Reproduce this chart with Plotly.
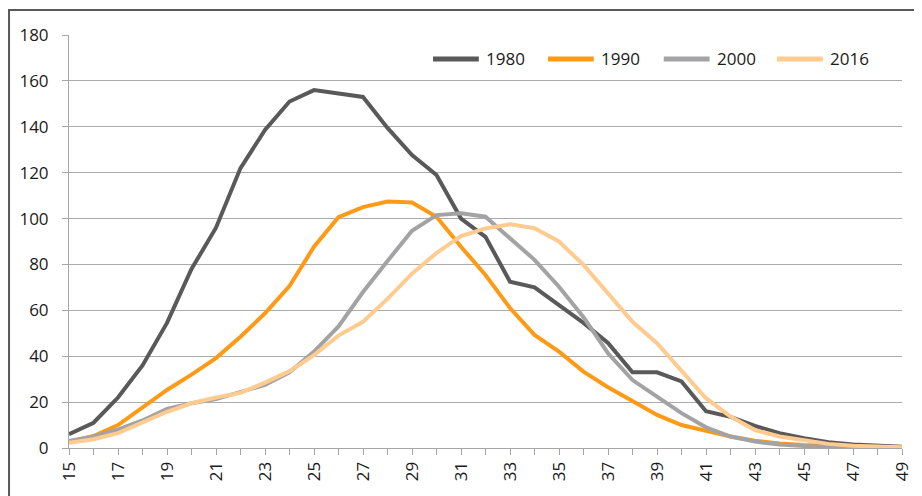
import plotly.graph_objects as go

ages = list(range(15, 50))
x_tick_labels = [str(a) for a in range(15, 50, 2)]
y_ticks = list(range(0, 181, 20))

s1980 = [6, 11, 22, 36, 54.5, 78, 96, 122, 138.6, 151, 156, 154.5, 153, 139.5, 127.7, 119,
         100, 92, 72.5, 70, 62, 54.5, 45.8, 33, 33, 29, 16, 13.6, 9.6, 6.5, 4.3, 2.5, 1.5, 1, 0.5]
s1990 = [2.7, 5.2, 10, 17.4, 25.3, 32, 39.2, 48.5, 58.7, 70.6, 87.7, 100.6, 105, 107.4, 107, 100.8,
         87.7, 75.4, 61, 49.3, 42, 33.3, 26.5, 20.5, 14.4, 10, 7.4, 5, 3.2, 2, 1.3, 0.8, 0.5, 0.3, 0.2]
s2000 = [3, 5, 8, 12, 17, 19.5, 21.3, 24.5, 27.5, 33, 42, 53, 68, 81.5, 94.7, 101.5,
         102.3, 100.8, 91.5, 82, 70.3, 57, 41.3, 29.6, 22.4, 15.2, 9, 5, 2.8, 1.5, 0.9, 0.5, 0.3, 0.2, 0.1]
s2016 = [2.3, 3.8, 6.5, 11, 15.8, 19.5, 22, 24, 28.5, 33.5, 40.5, 49, 55, 65, 76, 85,
         92.4, 95.7, 97.5, 95.8, 90, 79.8, 67.5, 55, 45.7, 34, 21.7, 13.7, 7.8, 5, 3.2, 1.8, 1, 0.6, 0.3]

series = [("1980", s1980, "#595959"), ("1990", s1990, "#FF9A17"),
          ("2000", s2000, "#A3A3A5"), ("2016", s2016, "#FFCB8F")]

fig = go.Figure()
for name, vals, col in series:
    fig.add_trace(go.Scatter(x=ages, y=vals, name=name, mode="lines",
                             line=dict(color=col, width=4), showlegend=False))

font = dict(family="Open Sans, DejaVu Sans, sans-serif", size=17, color="#1a1a1a")

# custom legend (line swatch + label), positioned in paper coordinates
leg_x = [0.437, 0.575, 0.714, 0.850]
leg_len = 0.055
leg_y = 0.942
shapes = [dict(type="rect", xref="paper", yref="paper",
               x0=-0.072, x1=1.2, y0=-0.4, y1=1.0605,
               line=dict(color="#595959", width=2), layer="below")]
annotations = []
for (name, _, col), lx in zip(series, leg_x):
    shapes.append(dict(type="line", xref="paper", yref="paper",
                       x0=lx, x1=lx + leg_len, y0=leg_y, y1=leg_y,
                       line=dict(color=col, width=5)))
    annotations.append(dict(xref="paper", yref="paper", x=lx + leg_len + 0.006, y=leg_y,
                            text=name, showarrow=False, xanchor="left", yanchor="middle",
                            font=font))

fig.update_layout(
    width=922, height=496,
    margin=dict(l=61, r=28, t=27, b=56, autoexpand=False),
    paper_bgcolor="white", plot_bgcolor="white",
    font=font,
    showlegend=False,
    xaxis=dict(range=[15, 49], tickmode="array",
               tickvals=list(range(15, 50, 2)), ticktext=x_tick_labels,
               tickangle=-90, showgrid=False, zeroline=False, automargin=False,
               showline=True, linecolor="#A6A6A6", linewidth=1,
               ticks="outside", ticklen=6, tickcolor="#A6A6A6",
               minor=dict(dtick=1, tick0=15, ticks="outside", ticklen=6, tickcolor="#A6A6A6", showgrid=False)),
    yaxis=dict(range=[0, 180], tickmode="array", tickvals=y_ticks, automargin=False,
               showgrid=True, gridcolor="#ABABAB", gridwidth=1, zeroline=False,
               showline=True, linecolor="#A6A6A6", linewidth=1,
               ticks="outside", ticklen=6, tickcolor="#A6A6A6", ticklabelstandoff=10),
    shapes=shapes,
    annotations=annotations,
)

fig.write_html("out.html")
